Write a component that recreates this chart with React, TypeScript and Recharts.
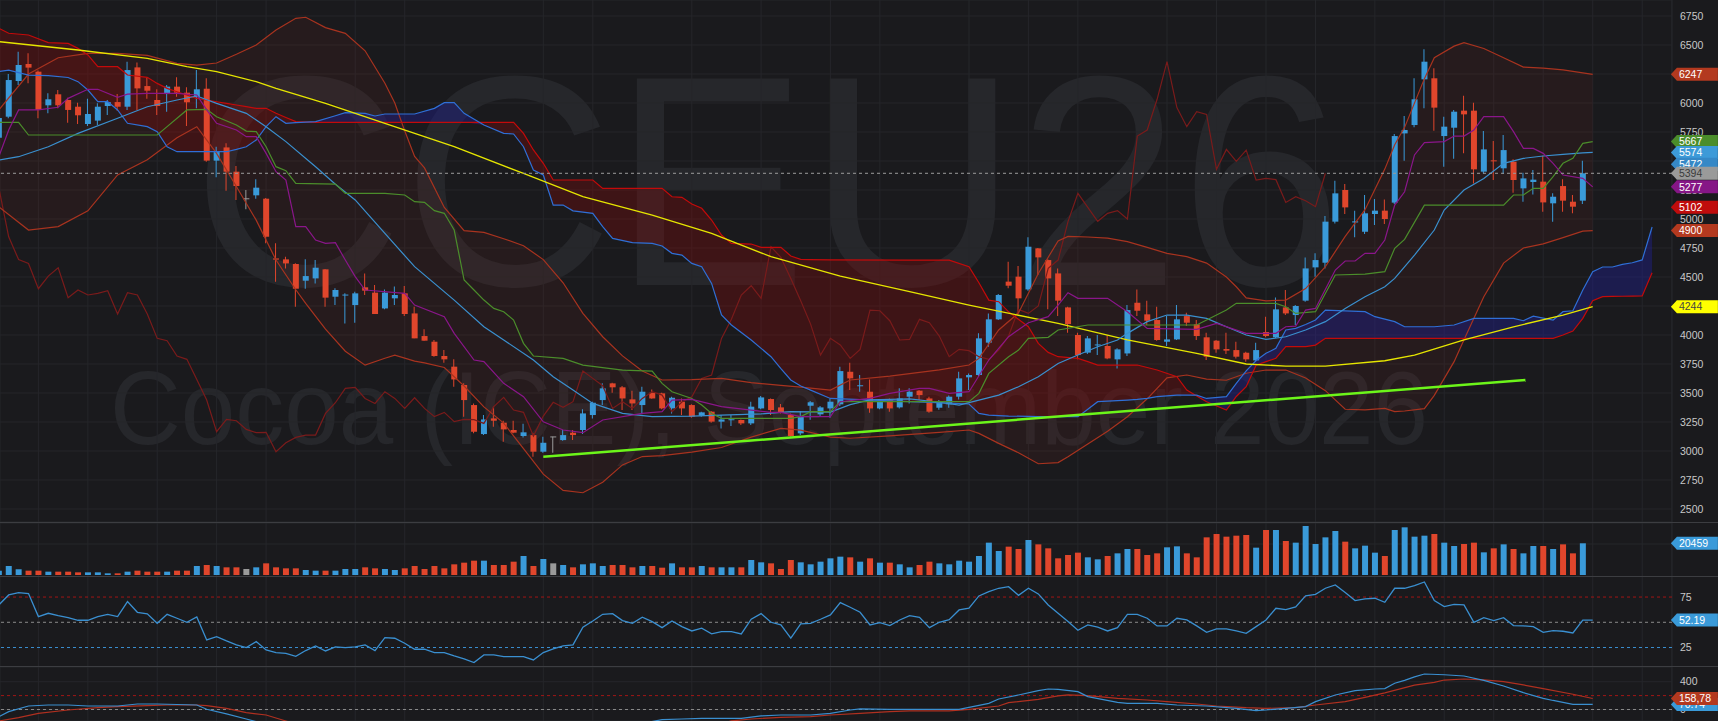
import React from 'react';
import {
  ComposedChart,
  Bar,
  Line,
  Area,
  XAxis,
  YAxis,
  CartesianGrid,
  ReferenceLine,
  ReferenceDot,
  Cell,
} from 'recharts';

// ---- candles (daily OHLC), index 0..160 ----
const opens = [
  5700, 5882, 6190, 6336, 6270, 5980, 6075, 6026, 5968, 5819,
  5848, 5974, 6008, 5968, 6307, 6146, 6026, 6077, 6141, 6089,
  6049, 6123, 5503, 5617, 5408, 5170, 5204, 5175, 4660, 4652,
  4612, 4468, 4488, 4566, 4330, 4340, 4258, 4411, 4365, 4229,
  4316, 4359, 4186, 3991, 3942, 3819, 3727, 3569, 3396, 3146,
  3281, 3244, 3181, 3129, 3137, 2994, 3117, 3094, 3158, 3181,
  3310, 3439, 3583, 3549, 3445, 3396, 3502, 3497, 3367, 3425,
  3396, 3304, 3339, 3253, 3265, 3267, 3238, 3367, 3448, 3376,
  3310, 3152, 3390, 3316, 3367, 3402, 3683, 3558, 3511, 3367,
  3439, 3376, 3468, 3520, 3453, 3373, 3402, 3468, 3635, 3655,
  3934, 4135, 4460, 4503, 4393, 4747, 4646, 4531, 4238, 4000,
  3848, 3910, 3905, 3790, 3841, 4278, 4178, 4129, 3942, 3962,
  4163, 4092, 3980, 3951, 3879, 3870, 3847, 3781, 4026, 3980,
  4238, 4172, 4296, 4583, 4623, 4977, 5250, 4970, 4890, 5043,
  5072, 5141, 5738, 5810, 6204, 6213, 5715, 5787, 5934, 5934,
  5408, 5505, 5437, 5494, 5264, 5319, 5322, 5135, 5284, 5149,
  5158,
];
const highs = [
  5900, 6250, 6442, 6428, 6280, 6083, 6112, 6046, 6003, 6037,
  5997, 6026, 6077, 6356, 6350, 6221, 6118, 6155, 6221, 6135,
  6284, 6213, 5623, 5652, 5457, 5250, 5342, 5180, 4790, 4675,
  4618, 4652, 4646, 4570, 4402, 4359, 4373, 4531, 4431, 4393,
  4417, 4422, 4244, 4049, 3957, 3870, 3790, 3583, 3410, 3310,
  3382, 3261, 3261, 3235, 3152, 3123, 3123, 3181, 3181, 3359,
  3425, 3583, 3589, 3560, 3520, 3554, 3531, 3502, 3468, 3453,
  3402, 3339, 3345, 3310, 3310, 3272, 3425, 3474, 3453, 3405,
  3324, 3345, 3430, 3388, 3453, 3727, 3761, 3655, 3617, 3445,
  3453, 3540, 3540, 3525, 3468, 3439, 3479, 3683, 3669, 4014,
  4186, 4353, 4632, 4595, 4842, 4750, 4652, 4574, 4244, 4020,
  3991, 4000, 4000, 3885, 4258, 4393, 4296, 4244, 4163, 4258,
  4192, 4129, 4020, 3957, 4020, 3942, 3856, 3934, 4158, 4324,
  4388, 4258, 4669, 4704, 5026, 5330, 5301, 5072, 5207, 5172,
  5169, 5733, 5888, 6213, 6463, 6299, 5882, 5940, 6063, 6003,
  5758, 5672, 5724, 5514, 5399, 5422, 5546, 5221, 5342, 5207,
  5503,
];
const lows = [
  5650, 5868, 6155, 6170, 5868, 5911, 5954, 5830, 5819, 5802,
  5810, 5896, 5934, 5940, 5940, 6037, 5896, 5925, 6054, 5802,
  5954, 5494, 5359, 5244, 5164, 5083, 5175, 4790, 4459, 4574,
  4244, 4399, 4445, 4244, 4258, 4100, 4106, 4345, 4181, 4221,
  4258, 4163, 3971, 3951, 3813, 3761, 3554, 3296, 3152, 3138,
  3209, 3080, 3152, 3117, 2950, 2985, 2985, 3088, 3094, 3146,
  3281, 3396, 3502, 3353, 3353, 3324, 3450, 3359, 3324, 3310,
  3287, 3296, 3244, 3195, 3215, 3224, 3224, 3359, 3310, 3324,
  3123, 3137, 3270, 3296, 3287, 3388, 3525, 3511, 3330, 3359,
  3339, 3367, 3410, 3439, 3330, 3356, 3373, 3445, 3525, 3646,
  3899, 4129, 4402, 4186, 4382, 4517, 4221, 4163, 4020, 3790,
  3836, 3827, 3790, 3712, 3819, 4163, 4086, 3951, 3905, 3957,
  4077, 3957, 3784, 3847, 3836, 3798, 3770, 3772, 3980, 3975,
  4172, 4086, 4287, 4502, 4574, 4962, 5043, 4842, 4870, 4948,
  4957, 5129, 5503, 5790, 5954, 5761, 5451, 5520, 5566, 5307,
  5393, 5336, 5388, 5227, 5149, 5212, 5063, 4977, 5063, 5049,
  5129,
];
const closes = [
  5870, 6198, 6328, 6305, 5940, 6032, 5980, 5940, 5894, 5905,
  5968, 6008, 5968, 6284, 6126, 6106, 5974, 6141, 6089, 6006,
  6118, 5503, 5577, 5408, 5284, 5170, 5270, 4847, 4650, 4617,
  4399, 4508, 4580, 4322, 4388, 4345, 4359, 4382, 4181, 4365,
  4345, 4181, 3971, 3951, 3819, 3790, 3617, 3439, 3166, 3272,
  3261, 3186, 3158, 3161, 2994, 3071, 3117, 3137, 3137, 3324,
  3416, 3540, 3549, 3453, 3410, 3511, 3453, 3367, 3459, 3367,
  3296, 3333, 3253, 3272, 3270, 3238, 3382, 3462, 3353, 3333,
  3129, 3301, 3420, 3376, 3425, 3689, 3626, 3563, 3367, 3425,
  3367, 3453, 3511, 3482, 3339, 3422, 3468, 3626, 3655, 3971,
  4135, 4345, 4425, 4316, 4761, 4669, 4488, 4296, 4094, 3827,
  3971, 3914, 3798, 3876, 4215, 4209, 4123, 3957, 3962, 4135,
  4106, 3991, 3813, 3876, 3865, 3813, 3790, 3870, 3991, 4221,
  4186, 4250, 4574, 4646, 4977, 5221, 5100, 4980, 5049, 5072,
  5000, 5715, 5767, 6032, 6356, 5960, 5796, 5925, 5902, 5428,
  5600, 5497, 5594, 5336, 5350, 5339, 5143, 5192, 5158, 5106,
  5394,
];

const volumes = [
  2800, 5800, 3650, 2800, 2800, 2150, 2150, 2150, 1720, 1720,
  1720, 1080, 1080, 2150, 2800, 2150, 2150, 2150, 2800, 2800,
  5800, 6450, 5800, 4950, 4950, 3870, 4950, 7530, 4950, 4300,
  4300, 3230, 2800, 2800, 2800, 3870, 3870, 4950, 4300, 3870,
  3230, 4300, 5800, 3870, 5800, 4300, 6890, 7960, 9250, 9250,
  6450, 6450, 8600, 12260, 5800, 10330, 7530, 6450, 4950, 6890,
  7530, 5800, 6450, 6450, 4950, 5800, 5800, 4730, 7530, 4950,
  4950, 5800, 4950, 4950, 4950, 4950, 9680, 8180, 7530, 3870,
  9680, 8180, 6890, 8600, 10760, 11830, 11400, 8600, 10760, 7960,
  7960, 6890, 4950, 6450, 8600, 7530, 6890, 9250, 8600, 12260,
  20870, 15490, 18290, 16780, 22590, 19790, 17210, 10760, 12910, 14420,
  11400, 10110, 12260, 13980, 16780, 16780, 12910, 13980, 17860, 18500,
  13980, 11400, 24300, 26460, 24740, 25380, 25820, 17640, 29040, 29040,
  21940, 20870, 31620, 20010, 24300, 28400, 21510, 17210, 18930, 14420,
  12260, 29040, 30770, 24740, 25380, 26460, 20870, 18720, 20010, 20870,
  14630, 17210, 19790, 16780, 13980, 18720, 18720, 16780, 19790, 13980,
  20459,
];

const rsi = [
  67.2, 77.1, 79.4, 78.4, 55.6, 58.9, 56.6, 54.6, 52.0, 52.0,
  55.6, 57.9, 55.6, 70.5, 59.9, 58.3, 49.0, 57.9, 54.0, 50.0,
  55.3, 32.5, 35.8, 31.5, 27.6, 24.9, 30.9, 22.6, 20.0, 19.3,
  16.3, 22.0, 26.6, 21.6, 25.6, 24.9, 25.6, 27.6, 22.0, 34.8,
  34.2, 29.2, 23.3, 23.3, 20.0, 20.0, 16.7, 13.7, 10.1, 17.7,
  17.7, 16.0, 16.0, 16.0, 12.7, 20.0, 23.6, 26.6, 27.6, 45.1,
  51.3, 57.9, 58.6, 51.7, 49.0, 55.0, 50.7, 44.7, 51.3, 45.7,
  41.4, 44.1, 38.5, 40.8, 40.8, 38.5, 53.0, 58.6, 50.0, 47.4,
  34.2, 48.4, 49.0, 53.0, 57.3, 69.5, 64.9, 59.9, 47.4, 49.7,
  46.7, 52.3, 56.6, 55.0, 44.7, 50.0, 52.6, 62.2, 63.9, 76.1,
  80.4, 83.7, 85.3, 76.7, 83.7, 78.1, 67.2, 58.9, 50.7, 42.1,
  47.4, 45.1, 41.4, 44.7, 57.9, 57.9, 54.0, 46.4, 46.4, 54.0,
  52.3, 46.4, 40.1, 43.4, 43.4, 41.4, 39.1, 45.7, 52.3, 63.9,
  62.5, 65.2, 76.1, 77.7, 83.7, 87.0, 79.4, 71.5, 73.1, 73.8,
  69.8, 83.7, 83.7, 86.3, 89.9, 71.5, 65.5, 67.8, 67.2, 50.0,
  54.6, 51.7, 54.6, 46.7, 46.4, 45.7, 40.1, 41.8, 41.1, 39.4,
  52.19, 52.19,
];

// ---- overlays: [index, value] ----
const sma = [
  [0, 6529], [8, 6457], [15, 6385], [19, 6313], [22, 6270], [26, 6184], [28, 6126],
  [33, 5997], [39, 5825], [46, 5623], [53, 5393], [59, 5192], [66, 5034], [72, 4876],
  [78, 4675], [85, 4508], [92, 4373], [98, 4258], [107, 4100], [114, 3957], [121, 3842],
  [126, 3750], [130, 3732], [134, 3732], [140, 3778], [143, 3827], [148, 3957],
  [153, 4071], [158, 4172], [161, 4244],
];
const bbBasis = [
  [0, 5508], [2, 5537], [5, 5623], [8, 5738], [12, 5868], [15, 5968], [18, 6026],
  [20, 6060], [22, 5997], [25, 5911], [27, 5796], [29, 5667], [32, 5451], [34, 5300],
  [36, 5164], [39, 4876], [42, 4589], [46, 4301], [49, 4071], [51, 3957], [54, 3784],
  [56, 3640], [58, 3525], [60, 3410], [63, 3324], [66, 3296], [70, 3300], [73, 3310],
  [77, 3320], [80, 3340], [84, 3335], [86, 3400], [88, 3440], [92, 3450], [95, 3420],
  [97, 3396], [99, 3439], [101, 3482], [103, 3554], [105, 3640], [107, 3755],
  [109, 3827], [111, 3899], [113, 3957], [114, 4014], [116, 4115], [118, 4172],
  [120, 4172], [122, 4143], [124, 4071], [126, 4000], [128, 3962], [130, 3985],
  [132, 4043], [134, 4115], [136, 4229], [138, 4330], [140, 4416], [141, 4488],
  [143, 4689], [145, 4905], [146, 5077], [148, 5250], [150, 5350], [152, 5480],
  [154, 5523], [156, 5543], [158, 5557], [160, 5570], [161, 5574],
];
const tenkan = [
  [0, 5537], [1, 5767], [2, 5940], [4, 5940], [6, 5963], [7, 6040], [9, 6118], [10, 6118],
  [12, 6049], [13, 6077], [15, 6083], [18, 6083], [20, 6069], [21, 5940], [22, 5825],
  [24, 5767], [25, 5710], [26, 5710], [27, 5566], [28, 5408], [29, 5336], [30, 4934],
  [31, 4934], [32, 4819], [33, 4790], [34, 4796], [35, 4646], [36, 4503], [37, 4388],
  [41, 4359], [42, 4258], [45, 4158], [46, 4014], [48, 3784], [49, 3770], [51, 3583],
  [53, 3468], [55, 3252], [57, 3181], [59, 3158], [61, 3267], [65, 3324], [67, 3339],
  [68, 3439], [70, 3445], [73, 3382], [78, 3333], [79, 3333], [81, 3296], [84, 3296],
  [85, 3425], [88, 3453], [90, 3497], [93, 3540], [94, 3540], [96, 3497], [98, 3511],
  [100, 3784], [102, 3985], [104, 4106], [106, 4158], [107, 4258], [108, 4365],
  [109, 4316], [112, 4316], [114, 4201], [116, 4057], [121, 4049], [123, 4100],
  [126, 4014], [129, 4014], [130, 4071], [131, 4077], [132, 4215], [133, 4229],
  [135, 4560], [136, 4638], [137, 4638], [138, 4704], [139, 4704], [140, 4819],
  [141, 5120], [142, 5235], [143, 5552], [144, 5658], [146, 5667], [147, 5715],
  [148, 5715], [149, 5767], [150, 5882], [152, 5882], [153, 5753], [154, 5609],
  [155, 5609], [156, 5566], [157, 5480], [158, 5379], [160, 5350], [161, 5277],
];
const kijun = [
  [0, 5833], [2, 5833], [3, 5724], [16, 5724], [17, 5796], [19, 5940], [21, 5945],
  [22, 5882], [24, 5810], [25, 5758], [26, 5753], [27, 5623], [28, 5451], [29, 5416],
  [30, 5307], [34, 5301], [35, 5221], [39, 5221], [41, 5207], [42, 5149], [43, 5143],
  [44, 5072], [45, 5049], [46, 4905], [47, 4474], [48, 4388], [49, 4301], [50, 4229],
  [51, 4201], [52, 4129], [53, 3928], [54, 3819], [57, 3798], [59, 3741], [63, 3698],
  [66, 3689], [67, 3583], [68, 3511], [70, 3453], [71, 3396], [72, 3324], [73, 3281],
  [80, 3281], [81, 3296], [82, 3339], [84, 3339], [85, 3425], [98, 3425], [99, 3497],
  [100, 3669], [102, 3813], [103, 3870], [104, 3971], [106, 3980], [107, 4043],
  [110, 4086], [121, 4086], [122, 4129], [124, 4215], [125, 4273], [129, 4273],
  [130, 4244], [131, 4186], [133, 4201], [135, 4517], [138, 4525], [140, 4546],
  [141, 4747], [142, 4824], [144, 5120], [152, 5120], [153, 5207], [154, 5207],
  [155, 5264], [156, 5264], [157, 5365], [158, 5480], [159, 5523], [160, 5652],
  [161, 5667],
];
// bollinger: [index, upper, lower]
const bands = [
  [0, 5940, 5106], [3, 6250, 4905], [6, 6390, 4934], [9, 6428, 5070], [12, 6428, 5380],
  [15, 6410, 5510], [18, 6342, 5700], [20, 6327, 5796], [22, 6345, 5566], [24, 6420, 5280],
  [26, 6500, 4990], [28, 6629, 4646], [30, 6730, 4390], [31, 6739, 4273], [33, 6650, 4050],
  [35, 6600, 3860], [37, 6450, 3740], [39, 6170, 3800], [40, 6000, 3827], [41, 5760, 3800],
  [42, 5540, 3775], [43, 5440, 3760], [45, 5100, 3720], [47, 4900, 3560], [49, 4885, 3380],
  [51, 4830, 3240], [53, 4770, 3020], [55, 4650, 2800], [57, 4450, 2660], [59, 4186, 2640],
  [61, 3985, 2730], [63, 3820, 2880], [65, 3690, 2952], [67, 3612, 2960], [70, 3615, 2990],
  [73, 3626, 3030], [76, 3590, 3120], [79, 3565, 3195], [81, 3550, 3180], [84, 3525, 3120],
  [86, 3612, 3110], [90, 3645, 3130], [95, 3700, 3160], [98, 3741, 3181], [99, 3798, 3152],
  [101, 4043, 3066], [103, 4190, 2985], [105, 4530, 2890], [107, 4810, 2900],
  [108, 4850, 2950], [110, 4845, 3060], [112, 4835, 3170], [114, 4805, 3296],
  [116, 4755, 3450], [118, 4704, 3630], [120, 4675, 3655], [122, 4620, 3620],
  [124, 4500, 3610], [125, 4416, 3640], [126, 4320, 3670], [128, 4295, 3698],
  [130, 4301, 3698], [132, 4400, 3630], [134, 4590, 3520], [136, 4850, 3360],
  [138, 5080, 3355], [140, 5430, 3367], [141, 5640, 3340], [142, 5790, 3345],
  [144, 6210, 3365], [145, 6390, 3480], [147, 6490, 3770], [148, 6520, 3960],
  [150, 6470, 4330], [152, 6390, 4620], [154, 6310, 4750], [156, 6300, 4785],
  [158, 6285, 4840], [160, 6260, 4895], [161, 6247, 4900],
];
// ichimoku cloud: [index, span A, span B]
const cloud = [
  [0, 6270, 6644], [1, 6284, 6601], [3, 6241, 6586], [5, 6236, 6520], [7, 6220, 6514],
  [8, 6184, 6471], [9, 6112, 6414], [10, 6011, 6313], [11, 6011, 6313], [12, 5940, 6313],
  [13, 5825, 6241], [15, 5796, 6221], [16, 5753, 6169], [17, 5623, 6126], [18, 5580, 6097],
  [20, 5580, 6040], [22, 5580, 6011], [23, 5580, 5997], [24, 5600, 5983], [25, 5623, 5968],
  [26, 5681, 5954], [27, 5796, 5954], [28, 5882, 5911], [29, 5825, 5875], [30, 5830, 5839],
  [32, 5839, 5833], [34, 5890, 5833], [35, 5917, 5833], [37, 5911, 5833], [38, 5888, 5833],
  [39, 5905, 5833], [42, 5905, 5833], [44, 5954, 5833], [45, 6003, 5833], [46, 6003, 5833],
  [47, 5911, 5833], [49, 5810, 5833], [51, 5738, 5833], [52, 5733, 5833], [53, 5623, 5738],
  [54, 5422, 5595], [55, 5379, 5480], [56, 5120, 5336], [57, 5120, 5336], [58, 5070, 5336],
  [60, 5049, 5336], [61, 4934, 5264], [62, 4833, 5264], [64, 4796, 5264], [66, 4790, 5264],
  [67, 4767, 5264], [68, 4704, 5192], [69, 4689, 5187], [70, 4617, 5129], [71, 4589, 5092],
  [72, 4445, 4991], [73, 4172, 4862], [74, 4086, 4790], [76, 3957, 4784], [77, 3885, 4755],
  [78, 3813, 4755], [79, 3710, 4755], [80, 3612, 4681], [81, 3560, 4652], [82, 3525, 4650],
  [84, 3453, 4648], [92, 3425, 4646], [96, 3412, 4646], [98, 3405, 4589], [99, 3324, 4450],
  [100, 3310, 4301], [101, 3305, 4287], [102, 3301, 4200], [104, 3298, 4071],
  [105, 3297, 3928], [106, 3296, 3850], [107, 3296, 3813], [109, 3296, 3798],
  [110, 3360, 3770], [111, 3425, 3741], [114, 3439, 3741], [115, 3445, 3741],
  [116, 3453, 3720], [117, 3468, 3698], [119, 3482, 3640], [120, 3482, 3525],
  [121, 3482, 3475], [122, 3453, 3425], [124, 3468, 3353], [125, 3583, 3470],
  [126, 3690, 3554], [127, 3780, 3740], [128, 3842, 3770], [129, 3885, 3800],
  [130, 4043, 3899], [131, 4057, 3899], [132, 4090, 3899], [133, 4129, 3913],
  [134, 4215, 3971], [138, 4201, 3971], [139, 4158, 3971], [141, 4115, 3971],
  [142, 4071, 3971], [145, 4071, 3971], [147, 4086, 3971], [149, 4143, 3971],
  [153, 4143, 3971], [154, 4123, 3971], [155, 4163, 3971], [157, 4129, 3971],
  [158, 4201, 4000], [159, 4209, 4034], [160, 4388, 4143], [161, 4546, 4296],
  [162, 4586, 4330], [163, 4586, 4333], [164, 4609, 4334], [165, 4623, 4335],
  [166, 4647, 4336], [167, 4931, 4537],
];
// lower oscillator (two lines, leave the panel and come back)
const oscBlueA = [
  [0, -103], [1, -31], [3, 50], [5, 65], [7, 65], [9, 50], [12, 50], [14, 79], [16, 79],
  [20, 65], [21, 3], [23, -64], [25, -137], [26, -175], [27, -215],
];
const oscBlueB = [
  [65, -200], [67, -146], [69, -137], [71, -127], [75, -127], [77, -93], [79, -79],
  [82, -79], [84, -55], [86, -7], [87, 8], [90, 3], [97, 3], [98, 31], [100, 89],
  [101, 151], [103, 209], [105, 271], [106, 295], [107, 290], [109, 257], [110, 185],
  [113, 103], [114, 89], [117, 89], [119, 65], [122, 50], [125, 17], [127, -17],
  [128, -7], [130, 17], [132, 41], [133, 113], [135, 209], [137, 271], [139, 295],
  [140, 300], [141, 377], [142, 420], [143, 470], [144, 511], [146, 500], [148, 482],
  [150, 420], [152, 338], [154, 242], [156, 161], [157, 130], [159, 75], [161, 75],
];
const oscRedA = [
  [0, -165], [2, -117], [4, -55], [7, -7], [10, 26], [12, 41], [15, 55], [17, 65],
  [20, 65], [21, 55], [23, 17], [25, -45], [27, -79], [29, -165], [30, -210],
];
const oscRedB = [
  [73, -200], [74, -165], [76, -137], [79, -112], [82, -103], [84, -79], [87, -55],
  [90, -31], [92, -21], [96, -21], [98, 3], [101, 50], [102, 99], [105, 147], [107, 195],
  [108, 209], [110, 199], [113, 161], [116, 137], [118, 113], [121, 79], [123, 50],
  [126, 26], [128, 17], [131, 26], [133, 65], [136, 113], [138, 175], [140, 240],
  [143, 350], [145, 390], [146, 424], [148, 439], [150, 425], [152, 400], [154, 353],
  [156, 300], [159, 219], [161, 158.78],
];

const trend = [
  { x: 55, y: 2950 },
  { x: 154.2, y: 3612 },
];
const lastPrice = 5394;
const priceTicks = [2500, 2750, 3000, 3250, 3500, 3750, 4000, 4250, 4500, 4750, 5000, 5250, 5500, 5750, 6000, 6250, 6500, 6750];
const gridIdx = [4, 9, 16, 22, 27, 36, 41, 55, 60, 70, 77, 84, 89, 98, 104, 109, 118, 123, 128, 133, 139, 146, 151, 156, 161, 166, 169];

const priceTags = [
  { v: 6247, label: '6247', bg: '#b3391f', fg: '#ffffff' },
  { v: 5667, label: '5667', bg: '#4b8d2b', fg: '#ffffff' },
  { v: 5574, label: '5574', bg: '#3d9ad8', fg: '#ffffff' },
  { v: 5472, label: '5472', bg: '#3688c6', fg: '#ffffff' },
  { v: 5394, label: '5394', bg: '#9a9a9a', fg: '#3a3a3a' },
  { v: 5277, label: '5277', bg: '#861686', fg: '#ffffff' },
  { v: 5102, label: '5102', bg: '#c00c0c', fg: '#ffffff' },
  { v: 4900, label: '4900', bg: '#b3391f', fg: '#ffffff' },
  { v: 4244, label: '4244', bg: '#ffff00', fg: '#444444' },
];

const BG = '#1a1a1d';
const GRID = '#25262a';
const UP = '#3a9ad9';
const DOWN = '#e0462c';
const FLAT = '#9a9a9a';
const FONT = '"Liberation Sans", Arial, sans-serif';
const X_DOMAIN: [number, number] = [0.1212, 169.01];
const PRICE_DOMAIN: [number, number] = [2387.9, 6887.9];
const VOL_DOMAIN: [number, number] = [-1292, 33559];
const RSI_DOMAIN: [number, number] = [6.7, 94.85];
const OSC_DOMAIN: [number, number] = [-165.5, 611.5];

type Row = { i: number; [k: string]: any };
const rows: Row[] = Array.from({ length: 170 }, (_, i) => ({ i }));
opens.forEach((o, i) => {
  const c = closes[i];
  rows[i].wick = [lows[i], highs[i]];
  rows[i].body = [Math.min(o, c), Math.max(o, c)];
  rows[i].color = c > o ? UP : c < o ? DOWN : FLAT;
  rows[i].vol = volumes[i];
});
rsi.forEach((v, i) => (rows[i].rsi = v));
closes.forEach((c, i) => {
  if (i >= 26) rows[i - 26].chikou = c;
});
const put = (key: string, pts: number[][]) => pts.forEach(([i, v]) => (rows[i][key] = v));
put('sma', sma);
put('basis', bbBasis);
put('tenkan', tenkan);
put('kijun', kijun);
put('oscBA', oscBlueA);
put('oscBB', oscBlueB);
put('oscRA', oscRedA);
put('oscRB', oscRedB);
bands.forEach(([i, up, lo]) => {
  rows[i].bbU = up;
  rows[i].bbL = lo;
  rows[i].bbFill = [lo, up];
});
cloud.forEach(([i, a, b]) => {
  const lo = Math.min(a, b);
  rows[i].spanA = a;
  rows[i].spanB = b;
  rows[i].cloudRed = [lo, b];
  rows[i].cloudBlue = [lo, a];
});

const tagShape = (label: string, bg: string, fg: string) => (p: any) => {
  const x = p.cx;
  const y = p.cy;
  return (
    <g>
      <path d={`M${x - 1} ${y} L${x + 5} ${y - 6.5} L${x + 46} ${y - 6.5} L${x + 46} ${y + 6.5} L${x + 5} ${y + 6.5} Z`} fill={bg} />
      <text x={x + 7} y={y + 3.8} fill={fg} fontSize={10.5} fontFamily={FONT}>
        {label}
      </text>
    </g>
  );
};

const tickStyle = { fill: '#c8c8c8', fontSize: 10.5, fontFamily: FONT };

const VolTick = (p: any) =>
  p.payload.value === 0 ? (
    <text x={p.x} y={p.y - 3.5} fill="#c8c8c8" fontSize={10.5} fontFamily={FONT}>
      0
    </text>
  ) : (
    <g />
  );

const xAxis = <XAxis dataKey="i" type="number" domain={X_DOMAIN} allowDataOverflow hide ticks={gridIdx} />;

const line = (key: string, color: string, w = 1.2) => (
  <Line
    key={key}
    dataKey={key}
    type="linear"
    stroke={color}
    strokeWidth={w}
    dot={false}
    activeDot={false}
    connectNulls
    isAnimationActive={false}
  />
);

// transparent layer on top of a panel: only the value tags, same scales as the panel
const TagLayer = ({ top, height, domain, tags }: { top: number; height: number; domain: [number, number]; tags: { v: number; label: string; bg: string; fg: string }[] }) => (
  <div style={{ position: 'absolute', left: 0, top }}>
    <ComposedChart width={1718} height={height} data={rows} margin={{ top: 0, right: 0, bottom: 0, left: 0 }}>
      {xAxis}
      <YAxis orientation="right" width={46} domain={domain} allowDataOverflow tick={false} tickLine={false} axisLine={false} />
      {tags.map((t) => (
        <ReferenceDot key={t.label} x={169} y={t.v} r={0} ifOverflow="visible" shape={tagShape(t.label, t.bg, t.fg)} />
      ))}
    </ComposedChart>
  </div>
);

export default function App() {
  return (
    <div style={{ position: 'relative', width: 1718, height: 721, background: BG, overflow: 'hidden', fontFamily: FONT }}>
      <style>{`body{margin:0;background:${BG};}`}</style>

      {/* watermark */}
      <svg width={1718} height={522} style={{ position: 'absolute', left: 0, top: 0 }}>
        <text x={192} y={285} fontSize={300} fontFamily={FONT} fill="#26272b" textLength={1150} lengthAdjust="spacingAndGlyphs">
          CCEU26
        </text>
        <text x={110} y={444} fontSize={104} fontFamily={FONT} fill="#26272b" textLength={1318} lengthAdjust="spacingAndGlyphs">
          Cocoa (ICE), September 2026
        </text>
      </svg>

      {/* price panel */}
      <div style={{ position: 'absolute', left: 0, top: 0 }}>
        <ComposedChart width={1718} height={522} data={rows} margin={{ top: 0, right: 0, bottom: 0, left: 0 }}>
          <CartesianGrid stroke={GRID} />
          {xAxis}
          <XAxis xAxisId="body" dataKey="i" type="number" domain={X_DOMAIN} allowDataOverflow hide />
          <YAxis
            orientation="right"
            width={46}
            domain={PRICE_DOMAIN}
            allowDataOverflow
            ticks={priceTicks}
            tick={tickStyle}
            tickLine={false}
            axisLine={false}
          />
          <Area dataKey="bbFill" type="linear" stroke="none" fill="#7a2a20" fillOpacity={0.13} connectNulls isAnimationActive={false} activeDot={false} />
          <Area dataKey="cloudRed" type="linear" stroke="none" fill="#8b0a0a" fillOpacity={0.32} connectNulls isAnimationActive={false} activeDot={false} />
          <Area dataKey="cloudBlue" type="linear" stroke="none" fill="#1e1e8c" fillOpacity={0.45} connectNulls isAnimationActive={false} activeDot={false} />
          {line('chikou', '#7a1b1b', 1.2)}
          {line('bbU', '#a8331f', 1.2)}
          {line('bbL', '#a8331f', 1.2)}
          {line('spanB', '#c40a0a', 1.2)}
          {line('spanA', '#2f6fd6', 1.2)}
          {line('sma', '#e6e600', 1.3)}
          {line('basis', '#3a90cf', 1.2)}
          {line('kijun', '#4b8d2b', 1.2)}
          {line('tenkan', '#8a168a', 1.2)}
          <Bar dataKey="wick" barSize={1} isAnimationActive={false}>
            {rows.map((r) => (
              <Cell key={`w${r.i}`} fill={r.color || UP} />
            ))}
          </Bar>
          <Bar dataKey="body" xAxisId="body" barSize={6} minPointSize={1} isAnimationActive={false}>
            {rows.map((r) => (
              <Cell key={`b${r.i}`} fill={r.color || UP} />
            ))}
          </Bar>
          <ReferenceLine y={lastPrice} stroke="#9c9c9c" strokeDasharray="3 3" />
          <ReferenceLine segment={trend} stroke="#6cf51a" strokeWidth={2.5} />
        </ComposedChart>
      </div>
      <TagLayer top={0} height={522} domain={PRICE_DOMAIN} tags={priceTags} />

      {/* volume panel */}
      <div style={{ position: 'absolute', left: 0, top: 523 }}>
        <ComposedChart width={1718} height={54} data={rows} margin={{ top: 0, right: 0, bottom: 0, left: 0 }}>
          <CartesianGrid stroke={GRID} />
          {xAxis}
          <YAxis
            orientation="right"
            width={46}
            domain={VOL_DOMAIN}
            allowDataOverflow
            ticks={[0, 20000]}
            tick={<VolTick />}
            tickLine={false}
            axisLine={false}
          />
          <Bar dataKey="vol" barSize={6} isAnimationActive={false}>
            {rows.map((r) => (
              <Cell key={`v${r.i}`} fill={r.color || UP} />
            ))}
          </Bar>
        </ComposedChart>
      </div>
      <TagLayer top={523} height={54} domain={VOL_DOMAIN} tags={[{ v: 20459, label: '20459', bg: UP, fg: '#ffffff' }]} />

      {/* rsi panel */}
      <div style={{ position: 'absolute', left: 0, top: 577 }}>
        <ComposedChart width={1718} height={89} data={rows} margin={{ top: 0, right: 0, bottom: 0, left: 0 }}>
          <CartesianGrid stroke={GRID} horizontal={false} />
          {xAxis}
          <YAxis
            orientation="right"
            width={46}
            domain={RSI_DOMAIN}
            allowDataOverflow
            ticks={[25, 75]}
            tick={tickStyle}
            tickLine={false}
            axisLine={false}
          />
          <ReferenceLine y={75} stroke="#a01515" strokeDasharray="3 3" />
          <ReferenceLine y={50} stroke="#8a8a8a" strokeDasharray="3 3" />
          <ReferenceLine y={25} stroke="#3a8fd0" strokeDasharray="3 3" />
          {line('rsi', '#3a8fd0', 1.3)}
        </ComposedChart>
      </div>
      <TagLayer top={577} height={89} domain={RSI_DOMAIN} tags={[{ v: 52.19, label: '52.19', bg: UP, fg: '#ffffff' }]} />

      {/* lower oscillator panel */}
      <div style={{ position: 'absolute', left: 0, top: 667 }}>
        <ComposedChart width={1718} height={54} data={rows} margin={{ top: 0, right: 0, bottom: 0, left: 0 }}>
          <CartesianGrid stroke={GRID} />
          {xAxis}
          <YAxis
            orientation="right"
            width={46}
            domain={OSC_DOMAIN}
            allowDataOverflow
            ticks={[0, 400]}
            tick={tickStyle}
            tickLine={false}
            axisLine={false}
          />
          <ReferenceLine y={200} stroke="#a01515" strokeDasharray="3 3" />
          <ReferenceLine y={0} stroke="#8a8a8a" strokeDasharray="3 3" />
          {line('oscRA', '#b03020', 1.2)}
          {line('oscRB', '#b03020', 1.2)}
          {line('oscBA', '#3a8fd0', 1.2)}
          {line('oscBB', '#3a8fd0', 1.2)}
        </ComposedChart>
      </div>
      <TagLayer
        top={667}
        height={54}
        domain={OSC_DOMAIN}
        tags={[
          { v: 70.74, label: '70.74', bg: UP, fg: '#ffffff' },
          { v: 158.78, label: '158,78', bg: '#b3391f', fg: '#ffffff' },
        ]}
      />

      {/* panel separators */}
      <div style={{ position: 'absolute', left: 0, top: 522, width: 1718, height: 1, background: '#3c3d41' }} />
      <div style={{ position: 'absolute', left: 0, top: 576, width: 1718, height: 1, background: '#3c3d41' }} />
      <div style={{ position: 'absolute', left: 0, top: 666, width: 1718, height: 1, background: '#3c3d41' }} />
    </div>
  );
}
